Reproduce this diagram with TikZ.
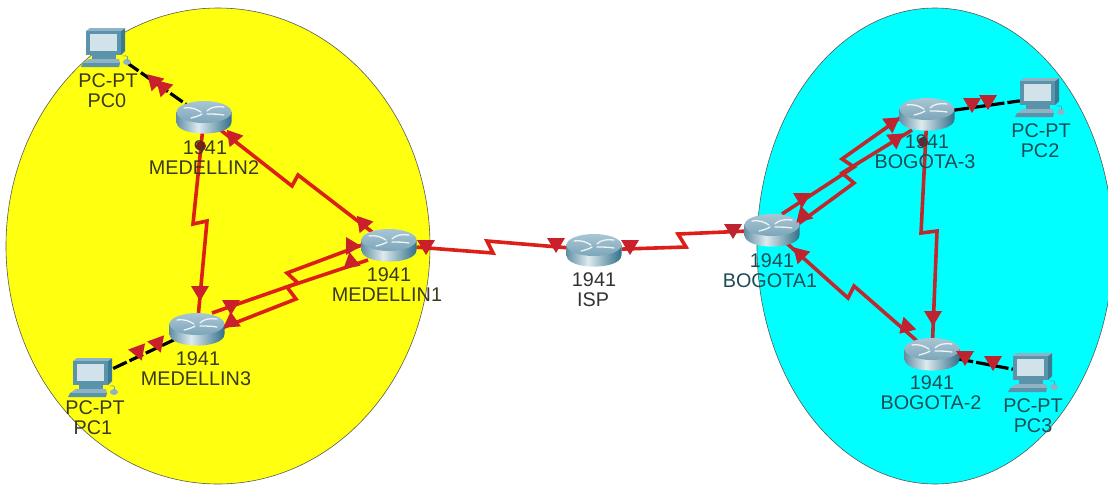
\documentclass[tikz,border=0pt]{standalone}
\usepackage{fontspec}
\setmainfont{Liberation Sans}
\usetikzlibrary{calc,shapes.geometric}
\definecolor{yel}{HTML}{FFFF10}
\definecolor{cya}{HTML}{00FFFF}
\definecolor{redY}{HTML}{DC1F17}
\definecolor{redC}{HTML}{BE2A2C}
\definecolor{triY}{HTML}{C9202C}
\definecolor{triC}{HTML}{BD2430}
\definecolor{txtY}{HTML}{3A3A1E}
\definecolor{txtC}{HTML}{1E4C55}
\definecolor{txtW}{HTML}{333333}
\definecolor{rsA}{HTML}{5F8EA3}
\definecolor{rsC}{HTML}{DDEAEF}
\definecolor{rsE}{HTML}{2F6E87}
\definecolor{rtopA}{HTML}{A9C6D4}
\definecolor{rtopB}{HTML}{7CA6BA}
\definecolor{pcD}{HTML}{3B7A93}
\definecolor{pcL}{HTML}{8DB3C4}
\definecolor{pcM}{HTML}{5B93AB}
\definecolor{pcS}{HTML}{D2E2EB}
\tikzset{
  zone/.style={draw=black!65,line width=0.6pt},
  routerbox/.style={shape=ellipse,minimum width=55pt,minimum height=32pt,inner sep=0pt},
  pcbox/.style={shape=rectangle,minimum width=40pt,minimum height=34pt,inner sep=0pt},
  serialY/.style={draw=redY,line width=3.6pt,line join=miter},
  serialC/.style={draw=redC,line width=3.6pt,line join=miter},
  copper/.style={draw=black,line width=3.2pt,dash pattern=on 15pt off 3pt},
  lab/.style={anchor=base,inner sep=0pt,font=\fontsize{19.8}{20}\selectfont},
  vane/.style={draw=white!80!rtopA,line width=1.3pt,line cap=round},
}
\newcommand{\routerart}[1]{%
  \begin{scope}[shift={(#1.center)}]
    \begin{scope}
      \clip (-27.5,-5) -- (-27.5,5) .. controls (-27.5,20.5) and (27.5,20.5) .. (27.5,5) -- (27.5,-5) -- cycle;
      \shade[left color=rsA,right color=rsC] (-28,-6) rectangle (-6,17);
      \shade[left color=rsC,right color=rsE] (-6,-6) rectangle (28,17);
    \end{scope}
    \shade[top color=rtopA,bottom color=rtopB] (0,-5) ellipse [x radius=27.5,y radius=11];
    \draw[vane] (-20,-9) .. controls (-12,-10) and (-8,-8) .. (-3,-5);
    \draw[vane] (20,-10) .. controls (10,-11) and (6,-9) .. (3,-6);
    \draw[vane] (-2,-3) .. controls (-5,-1) and (-9,0) .. (-13,1);
    \draw[vane] (3,-3) .. controls (8,-3) and (14,-3) .. (20,-2);
  \end{scope}}
\newcommand{\pcart}[1]{%
  \begin{scope}[shift={(#1.center)}]
    \fill[pcD] (15,-17) -- (19,-20) -- (19,3) -- (15,7) -- cycle;
    \fill[pcL] (-20,-17) -- (-16,-20) -- (19,-20) -- (15,-17) -- cycle;
    \fill[pcM] (-20,-17) rectangle (15,7);
    \fill[pcS] (-16,-14) rectangle (11,3);
    \fill[pcM] (-14,7) -- (10,7) -- (10,11) -- (-14,11) -- cycle;
    \fill[pcL] (-17,11) -- (13,11) -- (14,15) -- (-23,15) -- cycle;
    \fill[pcM] (-23,15) -- (14,15) -- (13,19) -- (-25,19) -- cycle;
    \fill[pcL] (21,14) ellipse [x radius=4,y radius=3];
    \draw[pcM,line width=0.6pt] (17,8) .. controls (21,7) and (23,9) .. (21,12);
  \end{scope}}
\newcommand{\tri}[4]{\fill[#4,shift={(#1,#2)},rotate=#3] (-9,-7) -- (9,-7) -- (0,8) -- cycle;}
\begin{document}
\begin{tikzpicture}[x=1pt,y=-1pt]
\useasboundingbox (0,0) rectangle (1108,485);
\fill[white] (0,0) rectangle (1108,485);
\begin{scope}
  \clip (0,0) rectangle (1108,485);
  \filldraw[zone,fill=yel] (218,246) ellipse [x radius=212,y radius=238];
  \filldraw[zone,fill=cya] (935,246) ellipse [x radius=178,y radius=238];
\end{scope}

% device anchors
\node[routerbox] (m2) at (204,117) {};
\node[routerbox] (m3) at (197,329) {};
\node[routerbox] (m1) at (389,245) {};
\node[routerbox] (isp) at (594,250) {};
\node[routerbox] (b1) at (772,230) {};
\node[routerbox] (b3) at (927,114) {};
\node[routerbox] (b2) at (932,354) {};
\node[pcbox] (pc0) at (106,48) {};
\node[pcbox] (pc1) at (93,378) {};
\node[pcbox] (pc2) at (1040,98) {};
\node[pcbox] (pc3) at (1033,373) {};

\coordinate (m3up) at ($(m3.center)+(15,-16)$);
\coordinate (m3lo) at ($(m3.center)+(25,-1)$);
\coordinate (m1up) at ($(m1.center)+(-27,0)$);
\coordinate (m1lo) at ($(m1.center)+(-21,15)$);
\coordinate (b1up) at ($(b1.center)+(10,-16)$);
\coordinate (b1lo) at ($(b1.center)+(26,-6)$);
\coordinate (b3up) at ($(b3.center)+(-27,4)$);
\coordinate (b3lo) at ($(b3.center)+(-15,16)$);

% copper links
\draw[copper] (pc0) -- (m2);
\draw[copper] (pc1) -- (m3);
\draw[copper] (b3) -- (pc2);
\draw[copper] (b2) -- (pc3);

% serial links
\draw[serialY] (m2) -- (292,186) -- (298,175) -- (m1);
\draw[serialY] (m2) -- (193,224) -- (207,221) -- (m3);
\draw[serialY] (m3up) -- (298,283) -- (287,273) -- (m1up);
\draw[serialY] (m3lo) -- (296,299) -- (287,287) -- (m1lo);
\draw[serialY] (m1) -- (493,253) -- (487,241) -- (isp);
\draw[serialY] (isp) -- (686,247) -- (678,234) -- (b1);
\draw[serialC] (b1up) -- (854,167) -- (842,159) -- (b3up);
\draw[serialC] (b1lo) -- (854,183) -- (842,173) -- (b3lo);
\draw[serialC] (b3) -- (921,233) -- (937,231) -- (b2);
\draw[serialC] (b1) -- (848,298) -- (854,286) -- (b2);

% devices
\routerart{m2}\routerart{m3}\routerart{m1}\routerart{isp}\routerart{b1}\routerart{b3}\routerart{b2}
\pcart{pc0}\pcart{pc1}\pcart{pc2}\pcart{pc3}

% link lights
\tri{153}{80}{-135}{triY}
\tri{162}{86}{-135}{triY}
\tri{232}{136}{-140}{triY}
\fill[triY!70!black] (201,146) circle [radius=5];
\tri{200}{293}{0}{triY}
\tri{362}{222}{-140}{triY}
\tri{231}{307}{0}{triY}
\tri{230}{323}{-55}{triY}
\tri{353}{246}{90}{triY}
\tri{353}{263}{70}{triY}
\tri{139}{353}{20}{triY}
\tri{158}{345}{20}{triY}
\tri{426}{247}{0}{triY}
\tri{556}{245}{0}{triY}
\tri{630}{247}{0}{triY}
\tri{733}{231}{0}{triC}
\tri{802}{200}{0}{triC}
\tri{802}{217}{-45}{triC}
\tri{893}{122}{125}{triC}
\tri{897}{138}{125}{triC}
\fill[triC!70!black] (923,142) circle [radius=5];
\tri{972}{105}{0}{triC}
\tri{988}{102}{0}{triC}
\tri{799}{253}{-135}{triC}
\tri{905}{328}{-45}{triC}
\tri{933}{318}{0}{triC}
\tri{965}{358}{0}{triC}
\tri{993}{363}{0}{triC}

% labels
\node[lab,text=txtY] (l0a) at (108,87) {PC-PT};
\node[lab,text=txtY] (l0b) at (107,107) {PC0};
\node[lab,text=txtY] (l1a) at (95,414) {PC-PT};
\node[lab,text=txtY] (l1b) at (93,434) {PC1};
\node[lab,text=txtC] (l2a) at (1041,137) {PC-PT};
\node[lab,text=txtC] (l2b) at (1040,157) {PC2};
\node[lab,text=txtC] (l3a) at (1033,412) {PC-PT};
\node[lab,text=txtC] (l3b) at (1033,432) {PC3};
\node[lab,text=txtY] (m2a) at (205,154) {1941};
\node[lab,text=txtY] (m2b) at (204,174) {MEDELLIN2};
\node[lab,text=txtY] (m3a) at (198,365) {1941};
\node[lab,text=txtY] (m3b) at (196,385) {MEDELLIN3};
\node[lab,text=txtY] (m1a) at (389,281) {1941};
\node[lab,text=txtY] (m1b) at (387,301) {MEDELLIN1};
\node[lab,text=txtW] (ia) at (594,286) {1941};
\node[lab,text=txtW] (ib) at (593,306) {ISP};
\node[lab,text=txtC] (b1a) at (772,267) {1941};
\node[lab,text=txtC] (b1b) at (770,287) {BOGOTA1};
\node[lab,text=txtC] (b3a) at (927,148) {1941};
\node[lab,text=txtC] (b3b) at (925,168) {BOGOTA-3};
\node[lab,text=txtC] (b2a) at (932,389) {1941};
\node[lab,text=txtC] (b2b) at (931,409) {BOGOTA-2};
\end{tikzpicture}
\end{document}
